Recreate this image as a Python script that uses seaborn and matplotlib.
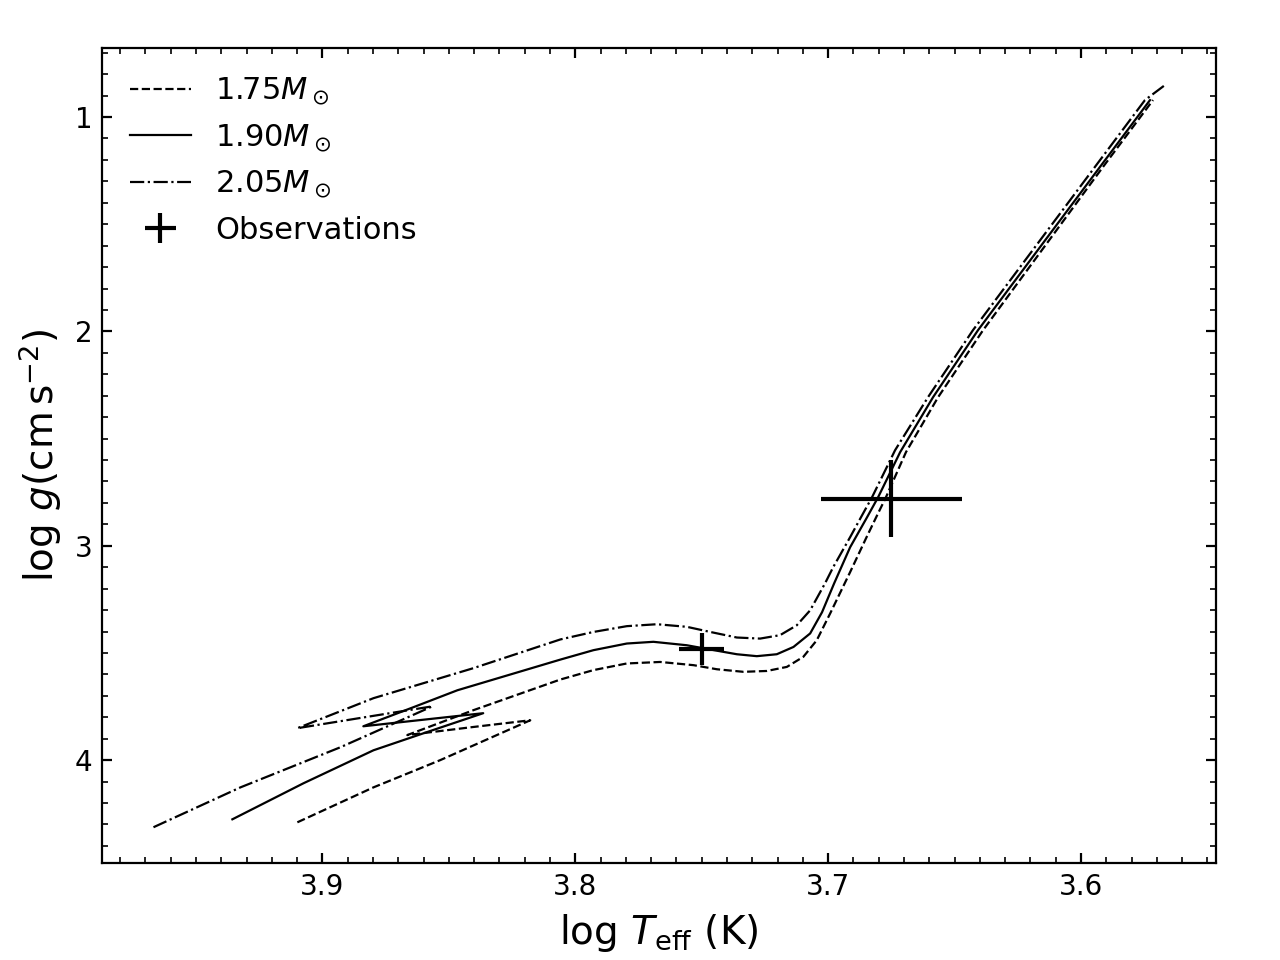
import matplotlib
matplotlib.use("Agg")
import matplotlib.pyplot as plt
from matplotlib.ticker import MultipleLocator
import seaborn as sns

# ---- track 1.75 Msun (dashed) ----
logT_175 = [3.9099, 3.8798, 3.8534, 3.8178, 3.8415, 3.8664, 3.8403, 3.8059,
            3.7928, 3.7796, 3.7664, 3.7532, 3.7440, 3.7335, 3.7242, 3.7163,
            3.7098, 3.7045, 3.6992, 3.6913, 3.6850, 3.6810, 3.6771, 3.6692,
            3.6565, 3.6387, 3.6146, 3.5913, 3.5715]
logg_175 = [4.290, 4.127, 4.000, 3.814, 3.847, 3.883, 3.767, 3.624,
            3.580, 3.549, 3.542, 3.557, 3.576, 3.588, 3.584, 3.565,
            3.518, 3.441, 3.316, 3.123, 2.965, 2.867, 2.773, 2.563,
            2.307, 1.994, 1.607, 1.233, 0.921]

# ---- track 1.90 Msun (solid) ----
logT_190 = [3.9356, 3.9075, 3.8798, 3.8601, 3.8364, 3.8838, 3.8640, 3.8466,
            3.8059, 3.7928, 3.7796, 3.7691, 3.7559, 3.7466, 3.7361, 3.7282,
            3.7203, 3.7137, 3.7071, 3.7024, 3.6976, 3.6913, 3.6846, 3.6802,
            3.6715, 3.6585, 3.6407, 3.6162, 3.5925, 3.5727]
logg_190 = [4.276, 4.108, 3.954, 3.875, 3.781, 3.842, 3.753, 3.674,
            3.531, 3.487, 3.456, 3.448, 3.464, 3.484, 3.506, 3.515,
            3.506, 3.472, 3.409, 3.310, 3.175, 3.007, 2.867, 2.773,
            2.563, 2.307, 1.994, 1.607, 1.233, 0.921]

# ---- track 2.05 Msun (dash-dot) ----
logT_205 = [3.9668, 3.9324, 3.8929, 3.8565, 3.8833, 3.9099, 3.8798, 3.8403,
            3.8059, 3.7928, 3.7796, 3.7677, 3.7559, 3.7466, 3.7361, 3.7269,
            3.7190, 3.7124, 3.7071, 3.7012, 3.6980, 3.6913, 3.6870, 3.6826,
            3.6735, 3.6605, 3.6427, 3.6182, 3.5945, 3.5747, 3.5668]
logg_205 = [4.313, 4.127, 3.940, 3.749, 3.800, 3.851, 3.711, 3.571,
            3.437, 3.402, 3.375, 3.366, 3.378, 3.402, 3.428, 3.433,
            3.417, 3.371, 3.301, 3.175, 3.100, 2.960, 2.867, 2.773,
            2.554, 2.307, 1.994, 1.607, 1.233, 0.921, 0.851]

# ---- observations ----
obs_logT = [3.750, 3.675]
obs_logg = [3.48, 2.78]
obs_logT_err = [0.009, 0.028]
obs_logg_err = [0.075, 0.18]

fig, ax = plt.subplots(figsize=(6.4, 4.8), dpi=200)

sns.lineplot(x=logT_175, y=logg_175, sort=False, estimator=None, ax=ax,
             color="k", linestyle="--", linewidth=0.8, label=r"$1.75M_\odot$")
sns.lineplot(x=logT_190, y=logg_190, sort=False, estimator=None, ax=ax,
             color="k", linestyle="-", linewidth=0.8, label=r"$1.90M_\odot$")
sns.lineplot(x=logT_205, y=logg_205, sort=False, estimator=None, ax=ax,
             color="k", linestyle="-.", linewidth=0.8, label=r"$2.05M_\odot$")

ax.errorbar(obs_logT, obs_logg, xerr=obs_logT_err, yerr=obs_logg_err,
            fmt="none", ecolor="k", elinewidth=1.5, label="Observations")

ax.set_xlim(3.987, 3.5466)
ax.set_ylim(4.48, 0.678)

ax.xaxis.set_major_locator(MultipleLocator(0.1))
ax.xaxis.set_minor_locator(MultipleLocator(0.01))
ax.yaxis.set_major_locator(MultipleLocator(1))
ax.yaxis.set_minor_locator(MultipleLocator(0.1))
ax.tick_params(which="both", direction="in", top=True, right=True)

ax.set_xlabel(r"$\log\,T_{\rm eff}$ (K)", fontsize=14)
ax.set_ylabel(r"$\log\,g(\mathrm{cm\,s^{-2}})$", fontsize=14)

ax.legend(loc="upper left", frameon=False, fontsize=11)

fig.subplots_adjust(left=0.08, right=0.95, bottom=0.101, top=0.95)
fig.savefig("out.png", dpi=200)
